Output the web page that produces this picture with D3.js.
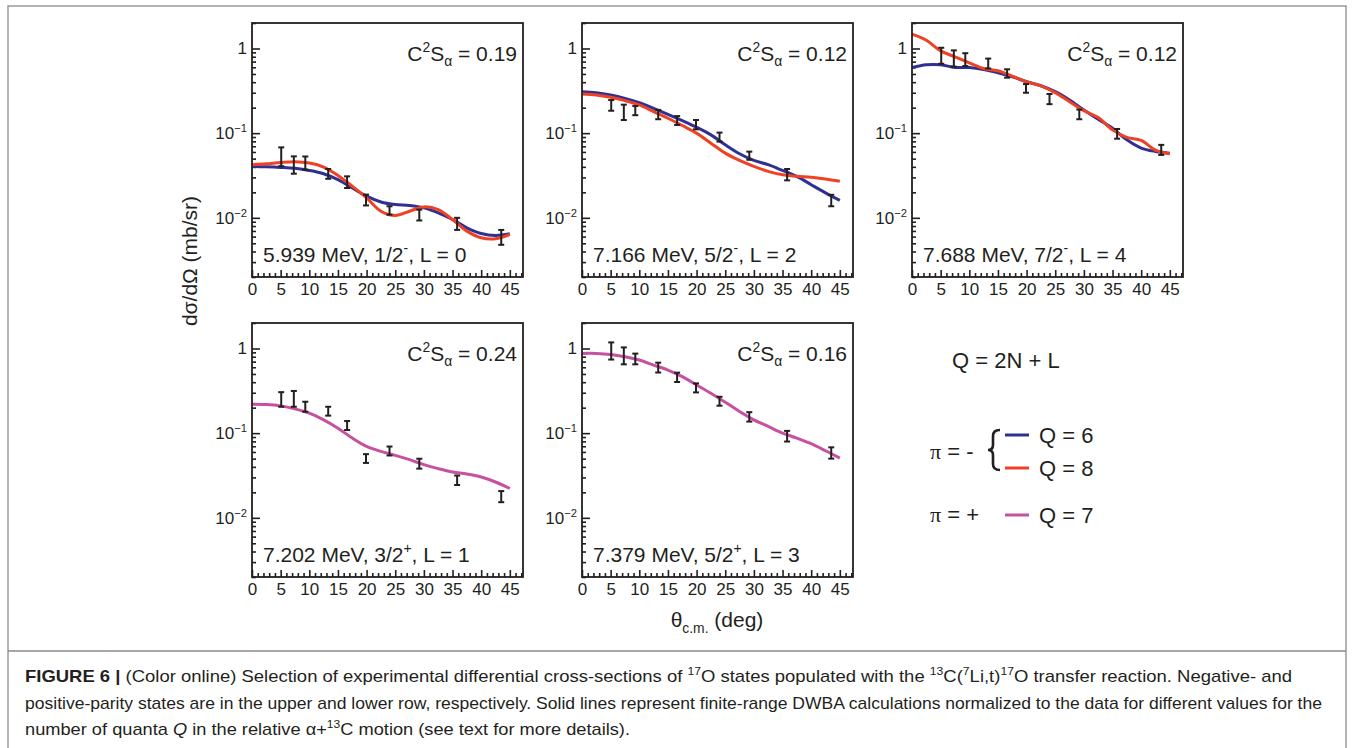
<!DOCTYPE html>
<html>
<head>
<meta charset="utf-8">
<script src="https://cdn.jsdelivr.net/npm/d3@7"></script>
<style>
body { margin: 0; background: #fff; }
text { font-family: "Liberation Sans", Arial, sans-serif; fill: #231f20; }
</style>
</head>
<body>
<div id="fig"></div>
<script>
// angles of the measured points (deg, c.m.)
var thetaData = [5.1, 7.3, 9.3, 13.3, 16.6, 19.9, 24.0, 29.2, 35.8, 43.5];
// angles where the DWBA curves were read
var thetaFit = [0, 2.5, 5, 7.5, 10, 12.5, 15, 17.5, 20, 22.5, 25, 27.5, 30, 32.5, 35, 37.5, 40, 42.5, 45];

// 5.939 MeV 1/2-
var p1Data = [0.0543, 0.0432, 0.045, 0.0333, 0.0267, 0.0164, 0.0123, 0.0109, 0.0086, 0.0060];
var p1Err  = [0.0136, 0.010, 0.008, 0.0044, 0.0042, 0.0024, 0.0014, 0.0016, 0.0014, 0.0012];
var p1Q6 = [0.0405, 0.0401, 0.0394, 0.0384, 0.0363, 0.0332, 0.0282, 0.0225, 0.0180, 0.0154, 0.01434, 0.01396, 0.0131, 0.01144, 0.00955, 0.00762, 0.00653, 0.00619, 0.00648];
var p1Q8 = [0.0424, 0.0435, 0.0451, 0.046, 0.0443, 0.0398, 0.0317, 0.0236, 0.0172, 0.01197, 0.01064, 0.01197, 0.01346, 0.01252, 0.00955, 0.00696, 0.00581, 0.00566, 0.00636];

// 7.166 MeV 5/2-
var p2Data = [0.215, 0.18, 0.186, 0.167, 0.142, 0.127, 0.0905, 0.0545, 0.0327, 0.0162];
var p2Err  = [0.031, 0.037, 0.023, 0.021, 0.017, 0.016, 0.011, 0.006, 0.005, 0.0025];
var p2Q6 = [0.309, 0.3007, 0.2823, 0.2578, 0.2293, 0.1967, 0.167, 0.1408, 0.1175, 0.0955, 0.0729, 0.0571, 0.0476, 0.0424, 0.0363, 0.0309, 0.0246, 0.0197, 0.0161];
var p2Q8 = [0.290, 0.2823, 0.265, 0.242, 0.2153, 0.1797, 0.150, 0.123, 0.100, 0.0762, 0.0581, 0.0476, 0.0405, 0.0354, 0.0323, 0.0309, 0.0301, 0.0287, 0.027];

// 7.688 MeV 7/2-
var p3Data = [0.84, 0.78, 0.75, 0.67, 0.51, 0.34, 0.255, 0.168, 0.099, 0.064];
var p3Err  = [0.18, 0.17, 0.13, 0.09, 0.058, 0.04, 0.035, 0.022, 0.013, 0.0087];
var p3Q6 = [0.597, 0.642, 0.642, 0.597, 0.597, 0.566, 0.517, 0.4638, 0.405, 0.3634, 0.309, 0.2465, 0.188, 0.146, 0.1144, 0.0834, 0.0666, 0.0608, 0.0581];
var p3Q8 = [1.473, 1.252, 0.938, 0.797, 0.677, 0.581, 0.545, 0.472, 0.405, 0.361, 0.3007, 0.2355, 0.1846, 0.1527, 0.1093, 0.089, 0.082, 0.063, 0.0571];

// 7.202 MeV 3/2+
var p4Data = [0.255, 0.26, 0.207, 0.183, 0.124, 0.0505, 0.062, 0.044, 0.028, 0.018];
var p4Err  = [0.05, 0.055, 0.028, 0.022, 0.015, 0.006, 0.0075, 0.0059, 0.0036, 0.0027];
var p4Q7 = [0.2196, 0.2177, 0.21, 0.1935, 0.172, 0.1437, 0.1146, 0.0874, 0.0697, 0.0609, 0.0547, 0.0486, 0.0425, 0.0381, 0.0348, 0.033, 0.0304, 0.0265, 0.0222];

// 7.379 MeV 5/2+
var p5Data = [0.96, 0.84, 0.76, 0.6, 0.46, 0.345, 0.24, 0.157, 0.093, 0.059];
var p5Err  = [0.22, 0.19, 0.11, 0.08, 0.058, 0.042, 0.029, 0.02, 0.0134, 0.009];
var p5Q7 = [0.874, 0.874, 0.851, 0.799, 0.730, 0.637, 0.5566, 0.4646, 0.371, 0.2958, 0.2318, 0.18, 0.1437, 0.12, 0.1, 0.0874, 0.075, 0.062, 0.0508];

var xTicks = [0, 5, 10, 15, 20, 25, 30, 35, 40, 45];
var yTicks = [0.01, 0.1, 1];
var yTickExp = ["\u22122", "\u22121", ""];

var blue = "#2e3192", red = "#ef4123", magenta = "#c551a0";

var panels = [
  {col: 0, row: 0, data: p1Data, err: p1Err, fits: [[p1Q6, blue], [p1Q8, red]], c2s: "0.19", state: "5.939 MeV, 1/2", par: "-", L: "0"},
  {col: 1, row: 0, data: p2Data, err: p2Err, fits: [[p2Q6, blue], [p2Q8, red]], c2s: "0.12", state: "7.166 MeV, 5/2", par: "-", L: "2"},
  {col: 2, row: 0, data: p3Data, err: p3Err, fits: [[p3Q6, blue], [p3Q8, red]], c2s: "0.12", state: "7.688 MeV, 7/2", par: "-", L: "4"},
  {col: 0, row: 1, data: p4Data, err: p4Err, fits: [[p4Q7, magenta]], c2s: "0.24", state: "7.202 MeV, 3/2", par: "+", L: "1"},
  {col: 1, row: 1, data: p5Data, err: p5Err, fits: [[p5Q7, magenta]], c2s: "0.16", state: "7.379 MeV, 5/2", par: "+", L: "3"}
];

var W = 271, H = 254;
var colX = [252, 582, 912], rowY = [23, 323];

var svg = d3.select("#fig").append("svg")
    .attr("width", 1354).attr("height", 748);

// figure box + caption separator
svg.append("rect").attr("x", 8).attr("y", 6).attr("width", 1338).attr("height", 750)
    .attr("fill", "none").attr("stroke", "#8a8a8a").attr("stroke-width", 1.3);
svg.append("line").attr("x1", 8).attr("x2", 1346).attr("y1", 651).attr("y2", 651)
    .attr("stroke", "#8a8a8a").attr("stroke-width", 1.3);

// writes text with super/subscripts
function rich(sel, segs, size) {
  var off = 0;
  segs.forEach(function(s) {
    var st = s[1] || "n";
    var target = 0, fs = size;
    if (st == "sup") { target = -size * 0.42; fs = size * 0.66; }
    if (st == "sub") { target = size * 0.28; fs = size * 0.66; }
    var t = sel.append("tspan").text(s[0])
        .attr("dy", target - off)
        .style("font-size", fs + "px");
    if (st == "b") t.style("font-weight", "bold");
    if (st == "i") t.style("font-style", "italic");
    if (st == "serif") t.style("font-family", "Liberation Serif, serif");
    off = target;
  });
}

var x = d3.scaleLinear().domain([0, 47.3]).range([0, W]);
var y = d3.scaleLog().domain([0.002, 2]).range([H, 0]);

var yMinor = y.ticks().filter(function(v) { return yTicks.indexOf(v) < 0; });
var xMinor = d3.range(0, 48, 1).filter(function(v) { return v % 5 != 0; });

var line = d3.line()
    .x(function(d) { return x(d[0]); })
    .y(function(d) { return y(d[1]); })
    .curve(d3.curveCatmullRom.alpha(0.5));

svg.append("defs").append("clipPath").attr("id", "frameclip")
  .append("rect").attr("width", W).attr("height", H);

panels.forEach(function(p) {
  var g = svg.append("g")
      .attr("transform", "translate(" + colX[p.col] + "," + rowY[p.row] + ")");

  // x axis: ticks inside the frame
  var gx = g.append("g").attr("transform", "translate(0," + H + ")")
      .call(d3.axisBottom(x).tickValues(xTicks).tickSize(-7).tickPadding(5));
  g.append("g").attr("transform", "translate(0," + H + ")")
      .call(d3.axisBottom(x).tickValues(xMinor).tickSize(-4).tickFormat(""));
  // y axis
  g.append("g")
      .call(d3.axisLeft(y).tickValues(yTicks).tickSize(-8).tickPadding(5).tickFormat(""));
  g.append("g")
      .call(d3.axisLeft(y).tickValues(yMinor).tickSize(-4).tickFormat(""));

  g.selectAll(".domain").remove();
  g.selectAll(".tick line").attr("stroke", "#231f20").attr("stroke-width", 1.6);
  gx.selectAll(".tick text").style("font-size", "17px").attr("fill", "#231f20")
      .style("font-family", "Liberation Sans, Arial, sans-serif").attr("dy", "0.75em");

  // decade labels 10^n
  yTicks.forEach(function(v, i) {
    var t = g.append("text").attr("x", -5).attr("y", y(v) + 6)
        .attr("text-anchor", "end").style("font-size", "17px");
    if (v == 1) t.text("1");
    else rich(t, [["10"], [yTickExp[i], "sup"]], 17);
  });

  // curves
  var cg = g.append("g").attr("clip-path", "url(#frameclip)");
  p.fits.forEach(function(f) {
    cg.append("path")
        .datum(thetaFit.map(function(t, i) { return [t, f[0][i]]; }))
        .attr("d", line)
        .attr("fill", "none")
        .attr("stroke", f[1])
        .attr("stroke-width", 3);
  });

  // data with error bars
  var pts = g.append("g").selectAll("g").data(thetaData.map(function(t, i) {
    return {t: t, v: p.data[i], e: p.err[i]};
  })).enter().append("g");
  pts.append("line")
      .attr("x1", function(d) { return x(d.t); }).attr("x2", function(d) { return x(d.t); })
      .attr("y1", function(d) { return y(d.v + d.e); }).attr("y2", function(d) { return y(d.v - d.e); })
      .attr("stroke", "#231f20").attr("stroke-width", 2);
  [1, -1].forEach(function(s) {
    pts.append("line")
        .attr("x1", function(d) { return x(d.t) - 3; }).attr("x2", function(d) { return x(d.t) + 3; })
        .attr("y1", function(d) { return y(d.v + s * d.e); }).attr("y2", function(d) { return y(d.v + s * d.e); })
        .attr("stroke", "#231f20").attr("stroke-width", 2);
  });

  // frame
  g.append("rect").attr("width", W).attr("height", H)
      .attr("fill", "none").attr("stroke", "#231f20").attr("stroke-width", 1.8);

  rich(g.append("text").attr("x", W - 6).attr("y", 37.5).attr("text-anchor", "end"),
       [["C"], ["2", "sup"], ["S"], ["\u03b1", "sub"], [" = " + p.c2s]], 21);
  rich(g.append("text").attr("x", 11).attr("y", H - 15),
       [[p.state], [p.par, "sup"], [", L = " + p.L]], 21);
});

// axis titles
svg.append("text").attr("transform", "translate(197,261) rotate(-90)")
    .attr("text-anchor", "middle").style("font-size", "21px")
    .text("d\u03c3/d\u03a9 (mb/sr)");
rich(svg.append("text").attr("x", 717).attr("y", 627).attr("text-anchor", "middle"),
     [["\u03b8"], ["c.m.", "sub"], [" (deg)"]], 21);

// legend
var lg = svg.append("g");
lg.append("text").attr("x", 952).attr("y", 368).style("font-size", "22px").text("Q = 2N + L");
var legRows = [
  {lab: "Q = 6", col: blue, y: 435},
  {lab: "Q = 8", col: red, y: 468},
  {lab: "Q = 7", col: magenta, y: 515}
];
legRows.forEach(function(r) {
  lg.append("line").attr("x1", 1005).attr("x2", 1029).attr("y1", r.y).attr("y2", r.y)
      .attr("stroke", r.col).attr("stroke-width", 3);
  lg.append("text").attr("x", 1039).attr("y", r.y + 8).style("font-size", "22px").text(r.lab);
});
rich(lg.append("text").attr("x", 930).attr("y", 459),
     [["\u03c0", "serif"], [" = -"]], 22);
rich(lg.append("text").attr("x", 930).attr("y", 522),
     [["\u03c0", "serif"], [" = +"]], 22);
lg.append("path")
    .attr("d", "M1000,430 Q993,430 993,436 L993,445 Q993,450 988,450 Q993,450 993,455 L993,464 Q993,470 1000,470")
    .attr("fill", "none").attr("stroke", "#231f20").attr("stroke-width", 2.6);

// caption
var capLines = [
  [["FIGURE 6 | ", "b"], ["(Color online) Selection of experimental differential cross-sections of "], ["17", "sup"], ["O states populated with the "],
   ["13", "sup"], ["C("], ["7", "sup"], ["Li,t)"], ["17", "sup"], ["O transfer reaction. Negative- and"]],
  [["positive-parity states are in the upper and lower row, respectively. Solid lines represent finite-range DWBA calculations normalized to the data for different values for the"]],
  [["number of quanta "], ["Q", "i"], [" in the relative \u03b1+"], ["13", "sup"], ["C motion (see text for more details)."]]
];
var capWidth = [1267, 1297, 605];
capLines.forEach(function(segs, i) {
  var t = svg.append("text").attr("x", 25).attr("y", 682 + i * 26.5)
      .attr("textLength", capWidth[i]).attr("lengthAdjust", "spacingAndGlyphs");
  rich(t, segs, 17);
});
</script>
</body>
</html>
